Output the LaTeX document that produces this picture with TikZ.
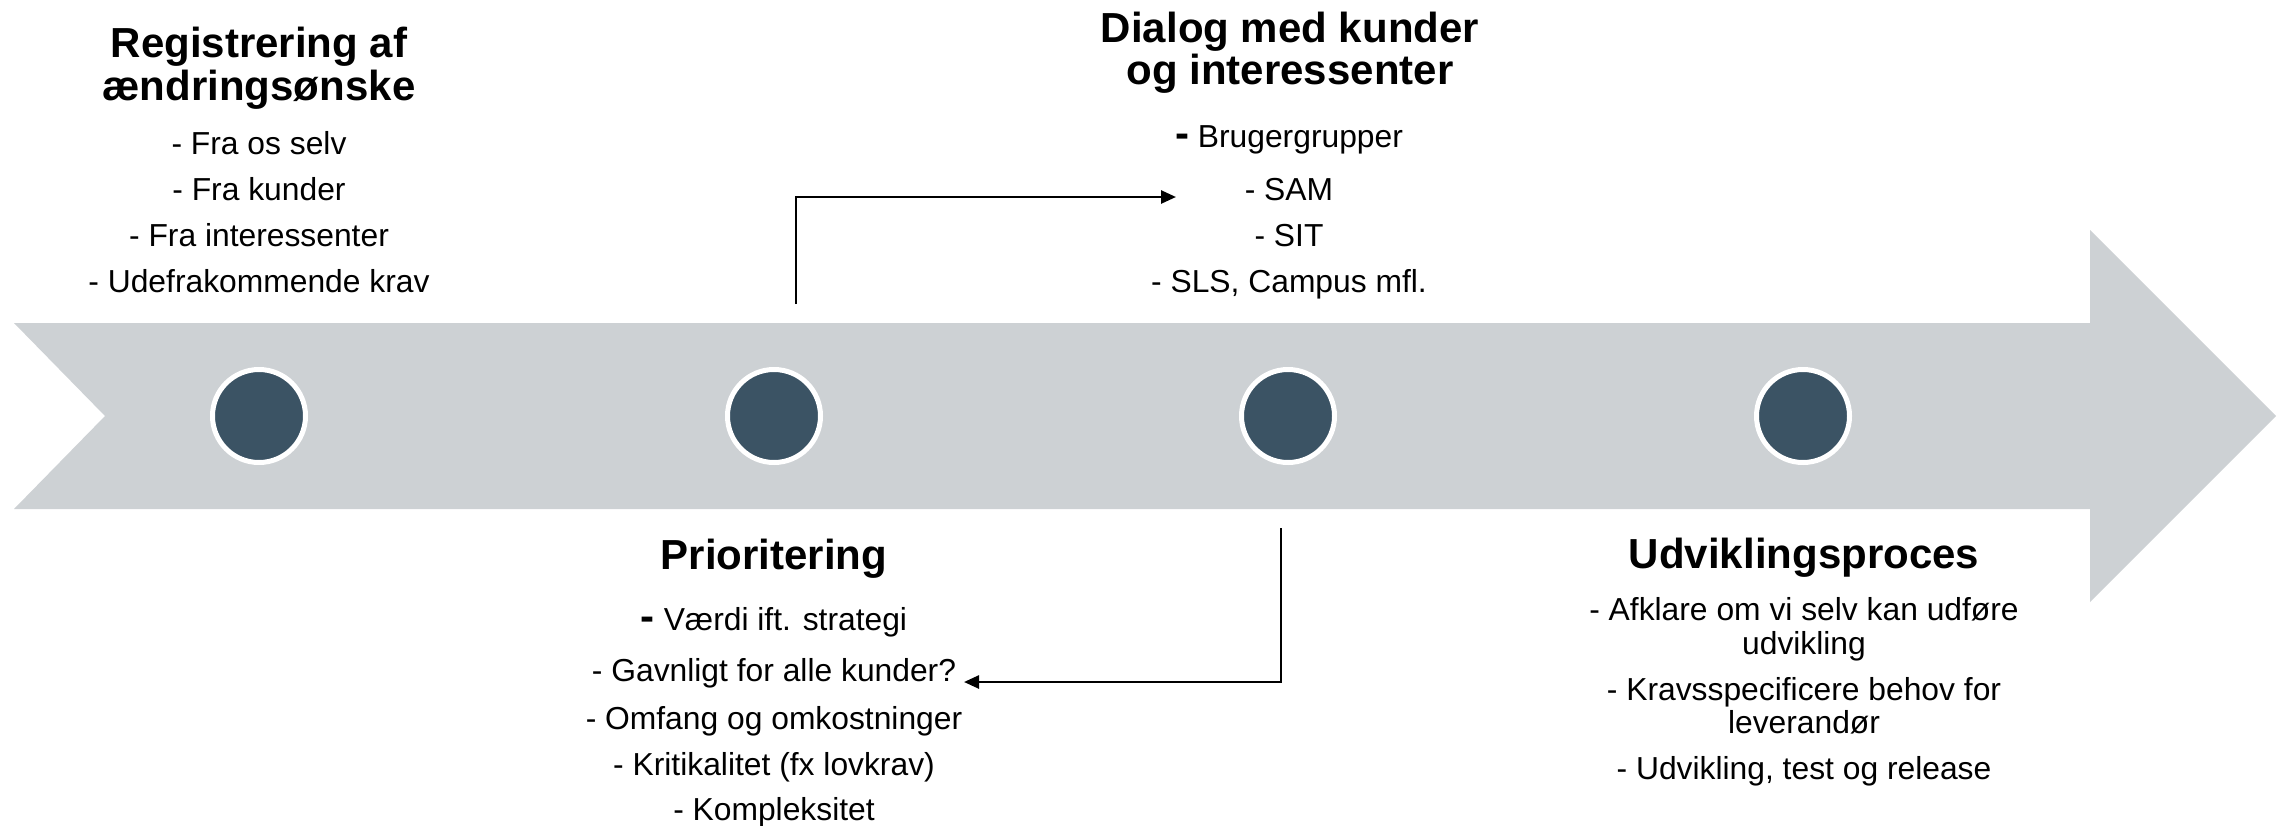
\documentclass[tikz,border=0pt]{standalone}
\usepackage{fontspec}
\setmainfont{Liberation Sans}
\usetikzlibrary{arrows.meta}
\definecolor{bargray}{HTML}{CDD1D4}
\definecolor{dotblue}{HTML}{3B5364}
\newcommand{\bigdash}{{\fontsize{42}{42}\selectfont\bfseries -}}
\begin{document}
\begin{tikzpicture}[x=1pt,y=-1pt,
  ttl/.style={anchor=base,inner sep=0pt,font=\fontsize{42}{42}\selectfont\bfseries},
  txt/.style={anchor=base,inner sep=0pt,font=\fontsize{31.8}{32}\selectfont},
  dot/.style={circle,fill=dotblue,draw=white,line width=5pt,minimum size=93pt,inner sep=0pt},
  conn/.style={line width=2.6pt,-{Triangle[length=15pt,width=13pt]}}]
\useasboundingbox (0,0) rectangle (2282,825);
% timeline arrow
\fill[bargray] (14,323) -- (2090,323) -- (2090,230) -- (2276,416) -- (2090,602) -- (2090,509) -- (14,509) -- (105,416) -- cycle;
% dots
\node[dot] (d1) at (259,416) {};
\node[dot] (d2) at (774,416) {};
\node[dot] (d3) at (1288,416) {};
\node[dot] (d4) at (1803,416) {};
% block 1
\node[ttl] (t1a) at (259,57) {Registrering af};
\node[ttl] (t1b) at (259,100) {ændringsønske};
\node[txt] (b1a) at (259,154) {- Fra os selv};
\node[txt] (b1b) at (259,200) {- Fra kunder};
\node[txt] (b1c) at (259,246) {- Fra interessenter};
\node[txt] (b1d) at (259,292) {- Udefrakommende krav};
% block 2
\node[ttl] (t2a) at (1290,42) {Dialog med kunder};
\node[ttl] (t2b) at (1290,84) {og interessenter};
\node[txt] (b2a) at (1289,147) {\bigdash{} Brugergrupper};
\node[txt] (b2b) at (1289,200) {- SAM};
\node[txt] (b2c) at (1289,246) {- SIT};
\node[txt] (b2d) at (1289,292) {- SLS, Campus mfl.};
% block 3
\node[ttl] (t3) at (774,569) {Prioritering};
\node[txt] (b3a) at (774,630) {\bigdash{} Værdi ift. strategi};
\node[txt] (b3b) at (774,681) {- Gavnligt for alle kunder?};
\node[txt] (b3c) at (774,729) {- Omfang og omkostninger};
\node[txt] (b3d) at (774,775) {- Kritikalitet (fx lovkrav)};
\node[txt] (b3e) at (774,820) {- Kompleksitet};
% block 4
\node[ttl] (t4) at (1804,568) {Udviklingsproces};
\node[txt] (b4a) at (1804,620) {- Afklare om vi selv kan udføre};
\node[txt] (b4b) at (1804,654) {udvikling};
\node[txt] (b4c) at (1804,700) {- Kravsspecificere behov for};
\node[txt] (b4d) at (1804,733) {leverandør};
\node[txt] (b4e) at (1804,779) {- Udvikling, test og release};
% connectors
\coordinate (a1s) at (796,304);
\coordinate (a1e) at (1176,197);
\draw[conn] (a1s) |- (a1e);
\coordinate (a2s) at (1281,528);
\coordinate (a2e) at (964,682);
\draw[conn] (a2s) |- (a2e);
\end{tikzpicture}
\end{document}
